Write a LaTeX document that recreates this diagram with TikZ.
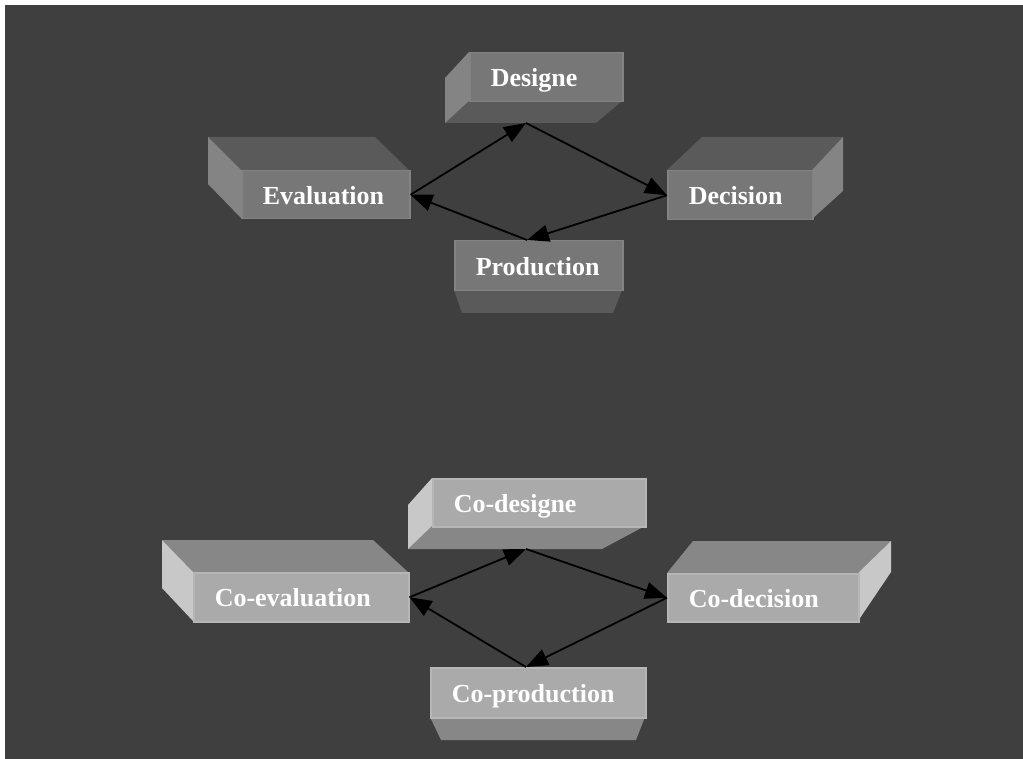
\documentclass[tikz,border=0pt]{standalone}
\usepackage{fontspec}
\setmainfont{Liberation Serif}
\usetikzlibrary{arrows.meta}
\definecolor{bgdark}{RGB}{63,63,63}
\definecolor{frontT}{RGB}{119,119,119}
\definecolor{frontTe}{RGB}{131,131,131}
\definecolor{topT}{RGB}{90,90,90}
\definecolor{sideT}{RGB}{132,132,132}
\definecolor{frontB}{RGB}{170,170,170}
\definecolor{frontBe}{RGB}{182,182,182}
\definecolor{topB}{RGB}{135,135,135}
\definecolor{sideB}{RGB}{200,200,200}
\begin{document}
\begin{tikzpicture}[x=1pt,y=-1pt,
  face/.style={rectangle,anchor=north west,line width=1.5pt,inner xsep=21pt,inner ysep=0pt,align=left,text=white,text height=19pt,text depth=0pt,font=\bfseries\fontsize{26}{30}\selectfont},
  faceT/.style={face,fill=frontT,draw=frontTe},
  faceB/.style={face,fill=frontB,draw=frontBe},
  flow/.style={black,line width=1.8pt,-{Triangle[length=22pt,width=17pt]}}]
\useasboundingbox (0,0) rectangle (1023,759);
\fill[white] (0,0) rectangle (1023,759);
\fill[bgdark] (5,5) rectangle (1023,759);

% first cycle
\fill[topT] (469,101) -- (622,101) -- (596,123) -- (445,123) -- cycle;
\fill[sideT] (469,52) -- (469,101) -- (445,123) -- (445,78) -- cycle;
\node[faceT,text width=111pt,minimum height=49pt] (designe) at (469,52) {Designe};
\coordinate (designeB) at (526,123);

\fill[topT] (208,137) -- (375,137) -- (409,170) -- (241,170) -- cycle;
\fill[sideT] (241,170) -- (241,218) -- (208,184) -- (208,137) -- cycle;
\node[faceT,text width=126pt,minimum height=48pt] (evaluation) at (241,170) {Evaluation};

\fill[topT] (667,170) -- (702,137) -- (843,137) -- (812,170) -- cycle;
\fill[sideT] (812,170) -- (843,137) -- (843,191) -- (812,219) -- cycle;
\node[faceT,text width=103pt,minimum height=49pt] (decision) at (667,170) {Decision};

\fill[topT] (454,290) -- (622,290) -- (613,313) -- (462,313) -- cycle;
\node[faceT,text width=126pt,minimum height=50pt] (production) at (454,240) {Production};
\coordinate (productionT) at (527,240);

\draw[flow] (evaluation.east) -- (designeB);
\draw[flow] (designeB) -- (decision.west);
\draw[flow] (decision.west) -- (productionT);
\draw[flow] (productionT) -- (evaluation.east);

% second cycle
\fill[topB] (432,526) -- (645,526) -- (602,549) -- (408,549) -- cycle;
\fill[sideB] (432,478) -- (432,526) -- (408,549) -- (408,505) -- cycle;
\node[faceB,text width=171pt,minimum height=48pt] (codesigne) at (432,478) {Co-designe};
\coordinate (codesigneB) at (526,549);

\fill[topB] (162,540) -- (373,540) -- (408,572) -- (193,572) -- cycle;
\fill[sideB] (193,572) -- (193,621) -- (162,588) -- (162,540) -- cycle;
\node[faceB,text width=173pt,minimum height=49pt] (coevaluation) at (193,572) {Co-evaluation};

\fill[topB] (667,573) -- (693,541) -- (891,541) -- (858,573) -- cycle;
\fill[sideB] (858,573) -- (891,541) -- (891,572) -- (858,621) -- cycle;
\node[faceB,text width=149pt,minimum height=48pt] (codecision) at (667,573) {Co-decision};

\fill[topB] (430,717) -- (645,717) -- (636,740) -- (441,740) -- cycle;
\node[faceB,text width=173pt,minimum height=50pt] (coproduction) at (430,667) {Co-production};
\coordinate (coproductionT) at (526,667);

\draw[flow] (coevaluation.east) -- (codesigneB);
\draw[flow] (codesigneB) -- (codecision.west);
\draw[flow] (codecision.west) -- (coproductionT);
\draw[flow] (coproductionT) -- (coevaluation.east);
\end{tikzpicture}
\end{document}
